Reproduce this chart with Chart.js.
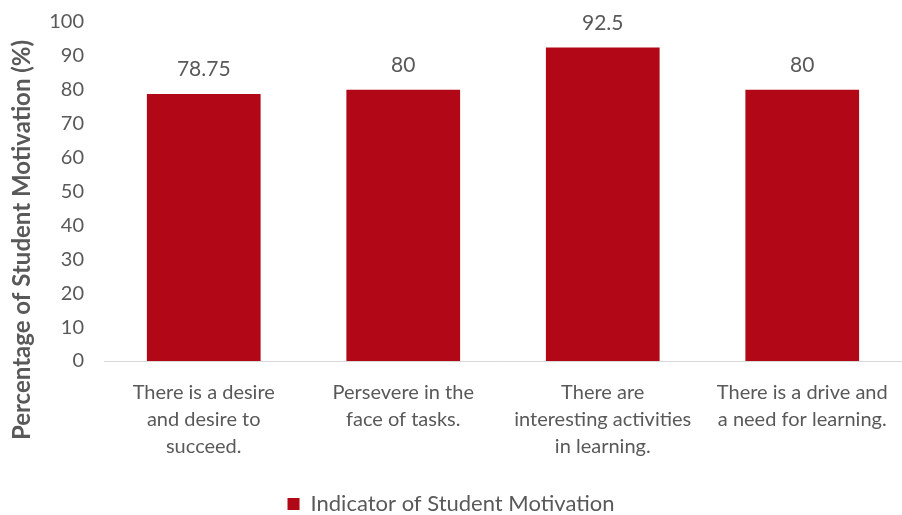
<!DOCTYPE html>
<html>
<head>
<meta charset="utf-8">
<script src="https://cdn.jsdelivr.net/npm/chart.js@4"></script>
<style>
  body { margin: 0; background: #fff; }
  #wrap { width: 902px; height: 515px; }
</style>
</head>
<body>
<div id="wrap"><canvas id="myChart" width="902" height="515"></canvas></div>
<script>
// chart data
const categories = [
  ['There is a desire', 'and desire to', 'succeed.'],
  ['Persevere in the', 'face of tasks.'],
  ['There are', 'interesting activities', 'in learning.'],
  ['There is a drive and', 'a need for learning.']
];
const motivation = [78.75, 80, 92.5, 80];
const valueLabels = ['78.75', '80', '92.5', '80'];
const seriesName = 'Indicator of Student Motivation';
const yTitle = 'Percentage of Student Motivation (%)';

const GREY = '#595959';
const FONT = 'Lato, Carlito, sans-serif';

// draws the number above each bar + the y axis title
const barLabels = {
  id: 'barLabels',
  afterDatasetsDraw(chart) {
    const c = chart.ctx;
    const meta = chart.getDatasetMeta(0);
    c.save();
    c.font = '21px ' + FONT;
    c.fillStyle = GREY;
    c.textAlign = 'center';
    c.textBaseline = 'bottom';
    meta.data.forEach((bar, i) => {
      c.fillText(valueLabels[i], bar.x, bar.y - 14);
    });
    // y title, rotated
    c.translate(22, 240);
    c.rotate(-Math.PI / 2);
    c.font = 'bold 24px ' + FONT;
    c.textBaseline = 'middle';
    c.fillText(yTitle, 0, 0);
    c.restore();
  }
};

const ctx = document.getElementById('myChart').getContext('2d');
const chart = new Chart(ctx, {
  type: 'bar',
  data: {
    labels: categories,
    datasets: [{
      label: seriesName,
      data: motivation,
      backgroundColor: '#B20716',
      borderWidth: 0,
      categoryPercentage: 1,
      barPercentage: 0.57
    }]
  },
  options: {
    responsive: false,
    animation: false,
    layout: { padding: { top: 22, right: 0, bottom: -10, left: 0 } },
    plugins: {
      legend: {
        position: 'bottom',
        labels: {
          color: GREY,
          font: { family: FONT, size: 22 },
          boxWidth: 12,
          boxHeight: 12,
          padding: 2
        }
      },
      tooltip: { enabled: false }
    },
    scales: {
      x: {
        grid: { display: false, drawTicks: false },
        border: { color: '#d9d9d9', width: 1 },
        ticks: {
          color: GREY,
          maxRotation: 0,
          autoSkip: false,
          padding: 18,
          font: { family: FONT, size: 20, lineHeight: 1.35 }
        },
        afterFit(scale) {
          scale.height = 130;
          scale.paddingLeft = 0;
          scale.paddingRight = 0;
        }
      },
      y: {
        min: 0,
        max: 100,
        grid: { display: false, drawTicks: false },
        border: { display: false },
        ticks: {
          stepSize: 10,
          color: GREY,
          padding: 20,
          font: { family: FONT, size: 20 }
        },
        afterFit(scale) {
          scale.width = 104;
          scale.paddingTop = 0;
          scale.paddingBottom = 0;
        }
      }
    }
  },
  plugins: [barLabels]
});
</script>
</body>
</html>
